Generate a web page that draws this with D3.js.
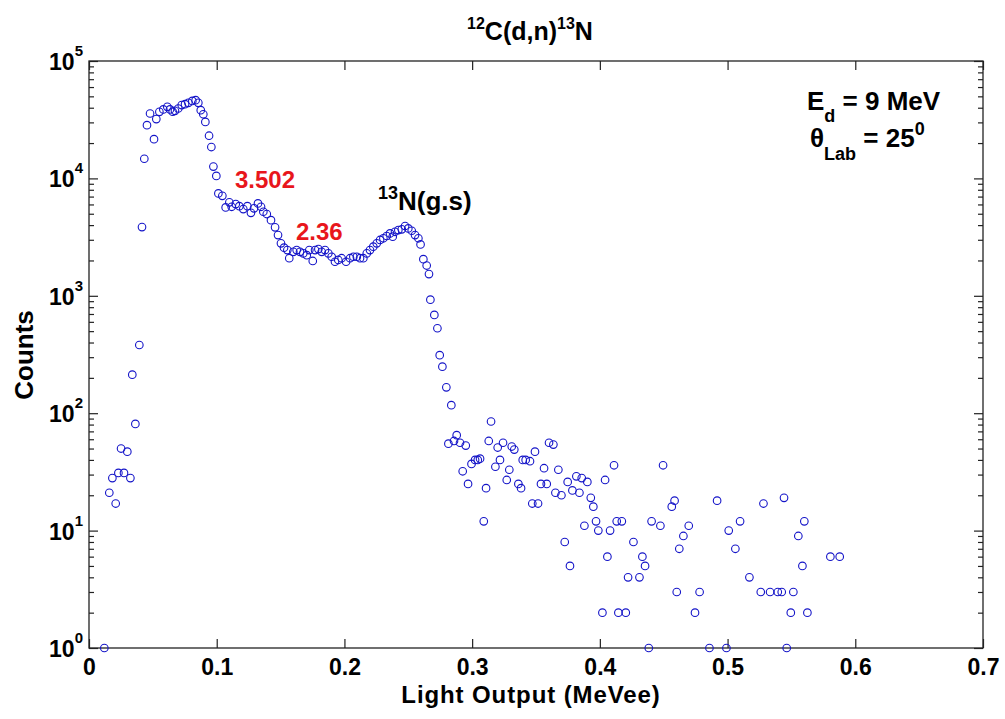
<html>
<script src='https://d3js.org/d3.v7.min.js'></script>
<style>
  body {margin:0; background:white;}
  text {font-family: "Liberation Sans", Arial, sans-serif; font-weight: bold;}
  circle {fill: none; stroke: #1414c8; stroke-width: 1.1;}
</style>
<body onload='init()'>
<svg width=1005 height=719></svg>
<script>
// light output (MeVee) of each bin and its counts
var lightOut = [0.0120,0.0159,0.0183,0.0209,0.0230,0.0251,0.0274,0.0300,0.0324,0.0339,0.0363,0.0394,
  0.0415,0.0433,0.0454,0.0478,0.0509,0.0527,0.0551,0.0582,0.0613,0.0634,0.0655,0.0673,0.0699,0.0726,
  0.0752,0.0778,0.0809,0.0835,0.0856,0.0875,0.0895,0.0911,0.0940,0.0958,0.0974,0.0997,0.1013,0.1044,
  0.1070,0.1099,0.1117,0.1149,0.1177,0.1208,0.1240,0.1268,0.1292,0.1323,0.1347,0.1365,0.1392,0.1425,
  0.1457,0.1480,0.1503,0.1527,0.1553,0.1568,0.1600,0.1626,0.1652,0.1678,0.1705,0.1725,0.1752,0.1770,
  0.1796,0.1822,0.1848,0.1874,0.1900,0.1926,0.1952,0.1978,0.2013,0.2044,0.2070,0.2097,0.2122,0.2148,
  0.2175,0.2200,0.2226,0.2253,0.2279,0.2305,0.2331,0.2357,0.2378,0.2396,0.2422,0.2449,0.2475,0.2500,
  0.2527,0.2553,0.2579,0.2596,0.2618,0.2644,0.2662,0.2673,0.2704,0.2728,0.2746,0.2767,0.2798,0.2837,
  0.2814,0.2858,0.2879,0.2905,0.2926,0.2950,0.2968,0.2995,0.3023,0.3044,0.3062,0.3091,0.3109,0.3130,
  0.3148,0.3182,0.3200,0.3218,0.3242,0.3271,0.3291,0.3310,0.3330,0.3362,0.3383,0.3396,0.3419,0.3453,
  0.3471,0.3492,0.3516,0.3539,0.3563,0.3584,0.3602,0.3636,0.3652,0.3675,0.3699,0.3725,0.3748,0.3766,
  0.3785,0.3816,0.3840,0.3858,0.3879,0.3902,0.3929,0.3949,0.3970,0.3988,0.4020,0.4041,0.4059,0.4080,
  0.4111,0.4132,0.4145,0.4172,0.4203,0.4221,0.4263,0.4310,0.4333,0.4354,0.4383,0.4405,0.4474,0.4495,
  0.4563,0.4585,0.4602,0.4622,0.4654,0.4696,0.4745,0.4781,0.4858,0.4918,0.4991,0.5009,0.5061,0.5098,
  0.5171,0.5260,0.5281,0.5333,0.5393,0.5424,0.5442,0.5463,0.5495,0.5515,0.5554,0.5586,0.5601,0.5625,
  0.5805,0.5878];
var counts = [1,21,28,17,31,50,31,47,28,213,81,381,
  3850,14700,28400,35700,21600,32000,36900,38700,40700,38700,37000,37600,39400,42100,
  42900,44000,45700,46400,44000,38100,35200,30300,23100,18500,12600,10500,7450,7100,
  5660,6250,5730,6040,5800,5480,5800,5090,5560,6120,5730,5200,4970,4410,
  3830,3290,2800,2570,2450,2090,2370,2450,2370,2300,2220,2450,1980,2450,
  2500,2370,2450,2300,2150,1950,2020,2090,1950,2090,2150,2150,2090,2090,
  2300,2450,2620,2800,2990,3090,3230,3400,3190,3510,3630,3680,3930,3750,
  3580,3290,3090,2740,2050,1810,1530,927,687,529,312,249,166,117,
  55,58,65,56,32,53,25,37,40,40,41,12,23,58,
  85,35,51,40,56,27,33,52,49,25,23,40,40,39,
  17,47,17,25,34,25,56,54,21,33,20,8,26,5,
  22,29,21,28,11,26,19,16,12,10,2,27,6,10,
  36,12,2,12,2,4,8,4,6,5,1,12,11,36,
  16,18,3,7,9,11,2,3,1,18,1,10,7,12,
  4,3,17,3,3,3,19,1,2,3,9,5,12,2,
  6,6];
var xTicks = [0,0.1,0.2,0.3,0.4,0.5,0.6,0.7];
var yExps = [0,1,2,3,4,5];

function init() {
  var svg = d3.select("svg");
  var left = 89, right = 983, top = 61, bottom = 648;
  var x = d3.scaleLinear().domain([0,0.7]).range([left,right]);
  var y = d3.scaleLog().domain([1,1e5]).range([bottom,top]);

  var major = yExps.map(e => Math.pow(10,e));
  var minor = [];
  yExps.slice(0,-1).forEach(e => { for (var k=2;k<10;k++) minor.push(k*Math.pow(10,e)); });

  // frame
  svg.append("rect").attr("x",left).attr("y",top).attr("width",right-left).attr("height",bottom-top)
    .attr("fill","none").attr("stroke","#222").attr("stroke-width",1.3);

  // bottom axis, ticks inward
  var gx = svg.append("g").attr("transform","translate(0,"+bottom+")")
    .call(d3.axisBottom(x).tickValues(xTicks).tickSize(-9).tickPadding(11).tickFormat(d => d===0 ? "0" : d3.format(".1f")(d)));
  gx.select(".domain").remove();
  gx.selectAll("text").style("font-size","23px").attr("fill","black");
  svg.append("g").attr("transform","translate(0,"+top+")")
    .call(d3.axisTop(x).tickValues(xTicks).tickSize(-9).tickFormat(""))
    .select(".domain").remove();

  // left axis
  var gy = svg.append("g").attr("transform","translate("+left+",0)")
    .call(d3.axisLeft(y).tickValues(major).tickSize(-9).tickPadding(6).tickFormat(""));
  gy.select(".domain").remove();
  gy.selectAll(".tick").append("text")
    .attr("x",-6).attr("dy","8.5px").attr("text-anchor","end").style("font-size","23px").attr("fill","black")
    .each(function(d){
      var t = d3.select(this);
      t.append("tspan").text("10");
      t.append("tspan").attr("dy","-14px").style("font-size","15px").text(Math.round(Math.log10(d)));
    });
  svg.append("g").attr("transform","translate("+left+",0)")
    .call(d3.axisLeft(y).tickValues(minor).tickSize(-5).tickFormat(""))
    .select(".domain").remove();
  // right axis
  svg.append("g").attr("transform","translate("+right+",0)")
    .call(d3.axisRight(y).tickValues(major).tickSize(-9).tickFormat(""))
    .select(".domain").remove();
  svg.append("g").attr("transform","translate("+right+",0)")
    .call(d3.axisRight(y).tickValues(minor).tickSize(-5).tickFormat(""))
    .select(".domain").remove();
  svg.selectAll(".tick line").attr("stroke","#222").attr("stroke-width",1.2);

  // data points
  svg.append("g").selectAll("circle").data(lightOut).enter().append("circle")
    .attr("cx", d => x(d))
    .attr("cy", (d,i) => y(counts[i]))
    .attr("r", 3.8);

  // title
  var title = svg.append("text").attr("x",530).attr("y",40).attr("text-anchor","middle").style("font-size","25px");
  title.append("tspan").attr("dy","-11px").style("font-size","16px").text("12");
  title.append("tspan").attr("dy","11px").text("C(d,n)");
  title.append("tspan").attr("dy","-11px").style("font-size","16px").text("13");
  title.append("tspan").attr("dy","11px").text("N");

  // axis labels
  svg.append("text").attr("x",531).attr("y",703).attr("text-anchor","middle").style("font-size","24px")
    .style("letter-spacing","0.9px").text("Light Output (MeVee)");
  svg.append("text").attr("transform","translate(33,355) rotate(-90)").attr("text-anchor","middle").style("font-size","26px").text("Counts");

  // peak labels
  svg.append("text").attr("x",235).attr("y",188).attr("fill","#e8161c").style("font-size","24px").text("3.502");
  svg.append("text").attr("x",296).attr("y",240).attr("fill","#e8161c").style("font-size","24px").text("2.36");
  var gs = svg.append("text").attr("x",378).attr("y",210).style("font-size","26px");
  gs.append("tspan").attr("dy","-11px").style("font-size","18px").text("13");
  gs.append("tspan").attr("dy","11px").text("N(g.s)");

  // beam conditions
  var ed = svg.append("text").attr("x",807).attr("y",110).style("font-size","26px");
  ed.append("tspan").text("E");
  ed.append("tspan").attr("dy","12px").style("font-size","18px").text("d");
  ed.append("tspan").attr("dy","-12px").text(" = 9 MeV");
  var th = svg.append("text").attr("x",810).attr("y",147).style("font-size","26px");
  th.append("tspan").text("\u03b8");
  th.append("tspan").attr("dy","13px").style("font-size","18px").text("Lab");
  th.append("tspan").attr("dy","-13px").text(" = 25");
  th.append("tspan").attr("dy","-12px").style("font-size","18px").text("0");
}
</script>
</body>
</html>
